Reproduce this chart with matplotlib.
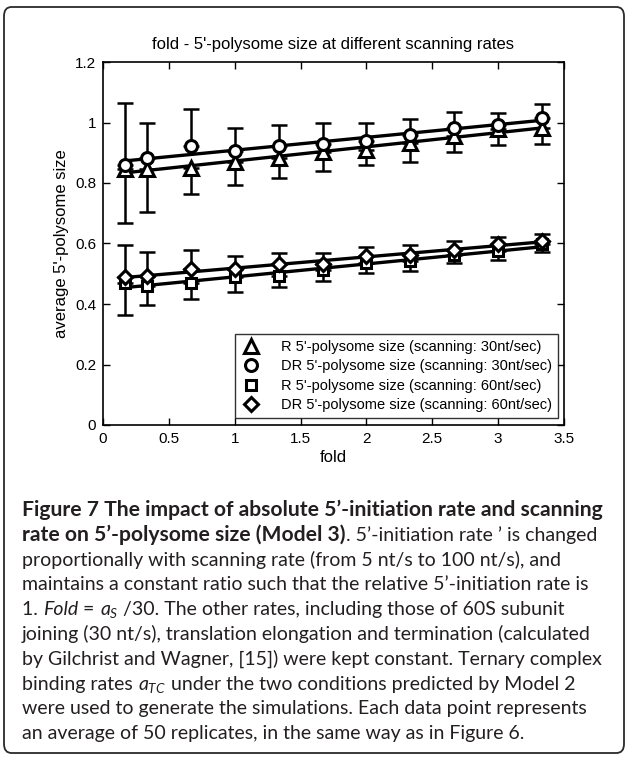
import numpy as np
import matplotlib
matplotlib.use('Agg')
from matplotlib import pyplot as plt
from matplotlib.patches import FancyBboxPatch
from matplotlib.transforms import IdentityTransform

# data
fold = [0.167, 0.333, 0.667, 1.0, 1.333, 1.667, 2.0, 2.333, 2.667, 3.0, 3.333]

# scanning 30 nt/sec
r30 = [0.846, 0.846, 0.849, 0.870, 0.882, 0.903, 0.909, 0.932, 0.954, 0.978, 0.982]
r30_err = [0.177, 0.142, 0.086, 0.077, 0.064, 0.063, 0.049, 0.064, 0.053, 0.053, 0.053]
dr30 = [0.859, 0.881, 0.923, 0.907, 0.923, 0.929, 0.938, 0.960, 0.982, 0.993, 1.015]
dr30_err = [0.205, 0.117, 0.120, 0.075, 0.070, 0.070, 0.061, 0.052, 0.054, 0.039, 0.046]

# scanning 60 nt/sec
r60 = [0.470, 0.459, 0.470, 0.489, 0.494, 0.514, 0.536, 0.542, 0.561, 0.575, 0.597]
r60_err = [0.105, 0.063, 0.053, 0.049, 0.039, 0.039, 0.035, 0.033, 0.025, 0.031, 0.025]
dr60 = [0.489, 0.492, 0.516, 0.516, 0.531, 0.533, 0.558, 0.561, 0.580, 0.599, 0.608]
dr60_err = [0.105, 0.080, 0.061, 0.042, 0.036, 0.036, 0.031, 0.033, 0.028, 0.022, 0.022]

labels = ["R 5'-polysome size (scanning: 30nt/sec)",
          "DR 5'-polysome size (scanning: 30nt/sec)",
          "R 5'-polysome size (scanning: 60nt/sec)",
          "DR 5'-polysome size (scanning: 60nt/sec)"]

W, H = 629, 757
plt.rcParams['font.family'] = ['Liberation Sans', 'DejaVu Sans']
plt.rcParams['mathtext.fontset'] = 'custom'
plt.rcParams['mathtext.rm'] = 'Lato'
plt.rcParams['mathtext.it'] = 'Lato:italic'

fig = plt.figure(figsize=(W / 100, H / 100), dpi=100)
ax = fig.add_axes([103 / W, 1 - 425 / H, 461 / W, 363 / H])

x = np.array(fold)
series = [(r30, r30_err, '^', 10.0, 'lower'),
          (dr30, dr30_err, 'o', 8.6, 'upper'),
          (r60, r60_err, 's', 7.6, 'lower'),
          (dr60, dr60_err, 'D', 7.2, 'upper')]

handles = []
for y, e, mk, ms, side in series:
    y = np.array(y)
    e = np.array(e)
    zero = np.zeros_like(e)
    yerr = [e, zero] if side == 'lower' else [zero, e]
    ax.errorbar(x, y, yerr=yerr, fmt='none', ecolor='k', elinewidth=1.8,
                capsize=5.5, capthick=1.8, zorder=2)
    # linear fit through the points
    p = np.polyfit(x, y, 1)
    ax.plot([x[0], x[-1]], np.polyval(p, [x[0], x[-1]]), 'k-', lw=2.4, zorder=3)
    h, = ax.plot(x, y, linestyle='none', marker=mk, ms=ms, mfc='white',
                 mec='k', mew=2.2, zorder=4)
    handles.append(h)

ax.set_xlim(0, 3.5)
ax.set_ylim(0, 1.2)
ax.set_xticks(np.arange(0, 3.51, 0.5))
ax.set_yticks(np.arange(0, 1.21, 0.2))
ax.set_xticklabels(['%g' % v for v in np.arange(0, 3.51, 0.5)])
ax.set_yticklabels(['%g' % round(v, 1) for v in np.arange(0, 1.21, 0.2)])
ax.tick_params(direction='in', length=5, width=1, top=True, right=True,
               labelsize=11, pad=5)
for s in ax.spines.values():
    s.set_linewidth(1.2)
ax.set_title("fold - 5'-polysome size at different scanning rates", fontsize=12, pad=9)
ax.set_xlabel('fold', fontsize=12, labelpad=3)
ax.set_ylabel("average 5'-polysome size", fontsize=12, labelpad=4)

leg = ax.legend(handles, labels, loc='lower right', bbox_to_anchor=(0.987, 0.019),
                borderaxespad=0, fontsize=10.5, frameon=True, fancybox=False,
                edgecolor='k', handlelength=1.5, handletextpad=1.3,
                labelspacing=0.38, borderpad=0.4)
leg.get_frame().set_linewidth(1.0)

# outer rounded frame
frame = FancyBboxPatch((4 / W, 4 / H), 620 / W, 746 / H,
                       boxstyle='round,pad=0,rounding_size=0.012',
                       transform=fig.transFigure, fill=False,
                       edgecolor='#2a2a2a', lw=1.3)
fig.patches.append(frame)

# caption
cap_color = '#231f20'
sizes = {'b': 15.2, 'n': 14.0, 'i': 14.0, 'm': 14.0}
styles = {'b': dict(family=['Lato', 'DejaVu Sans'], weight='bold'),
          'n': dict(family=['Lato', 'DejaVu Sans']),
          'i': dict(family=['Lato', 'DejaVu Sans'], style='italic'),
          'm': dict(family=['Lato', 'DejaVu Sans'])}

caption = [
    [("Figure 7 The impact of absolute 5\u2019-initiation rate and scanning", 'b')],
    [("rate on 5\u2019-polysome size (Model 3)", 'b'), (". 5\u2019-initiation rate \u2019 is changed", 'n')],
    [("proportionally with scanning rate (from 5 nt/s to 100 nt/s), and", 'n')],
    [("maintains a constant ratio such that the relative 5\u2019-initiation rate is", 'n')],
    [("1. ", 'n'), ("Fold", 'i'), (" = ", 'n'), (r"$a_S$", 'm'), (" /30. The other rates, including those of 60S subunit", 'n')],
    [("joining (30 nt/s), translation elongation and termination (calculated", 'n')],
    [("by Gilchrist and Wagner, [15]) were kept constant. Ternary complex", 'n')],
    [("binding rates ", 'n'), (r"$a_{TC}$", 'm'), (" under the two conditions predicted by Model 2", 'n')],
    [("were used to generate the simulations. Each data point represents", 'n')],
    [("an average of 50 replicates, in the same way as in Figure 6.", 'n')],
]

renderer = fig.canvas.get_renderer()


def seg_width(s, st):
    # width including leading/trailing spaces, measured between two bars
    kw = dict(fontsize=sizes[st], transform=IdentityTransform(), **styles[st])
    if st == 'm':
        t = fig.text(0, 0, s, **kw)
        w = t.get_window_extent(renderer).width
        t.remove()
        return w
    t1 = fig.text(0, 0, '|' + s + '|', **kw)
    t2 = fig.text(0, 0, '||', **kw)
    w = t1.get_window_extent(renderer).width - t2.get_window_extent(renderer).width
    t1.remove()
    t2.remove()
    return w


y0 = 516
for i, line in enumerate(caption):
    xpos = 22
    ypos = H - (y0 + 24.8 * i)
    for s, st in line:
        fig.text(xpos, ypos, s, fontsize=sizes[st], color=cap_color, va='baseline',
                 transform=IdentityTransform(), **styles[st])
        xpos += seg_width(s, st)

fig.savefig('out.png', dpi=100)
